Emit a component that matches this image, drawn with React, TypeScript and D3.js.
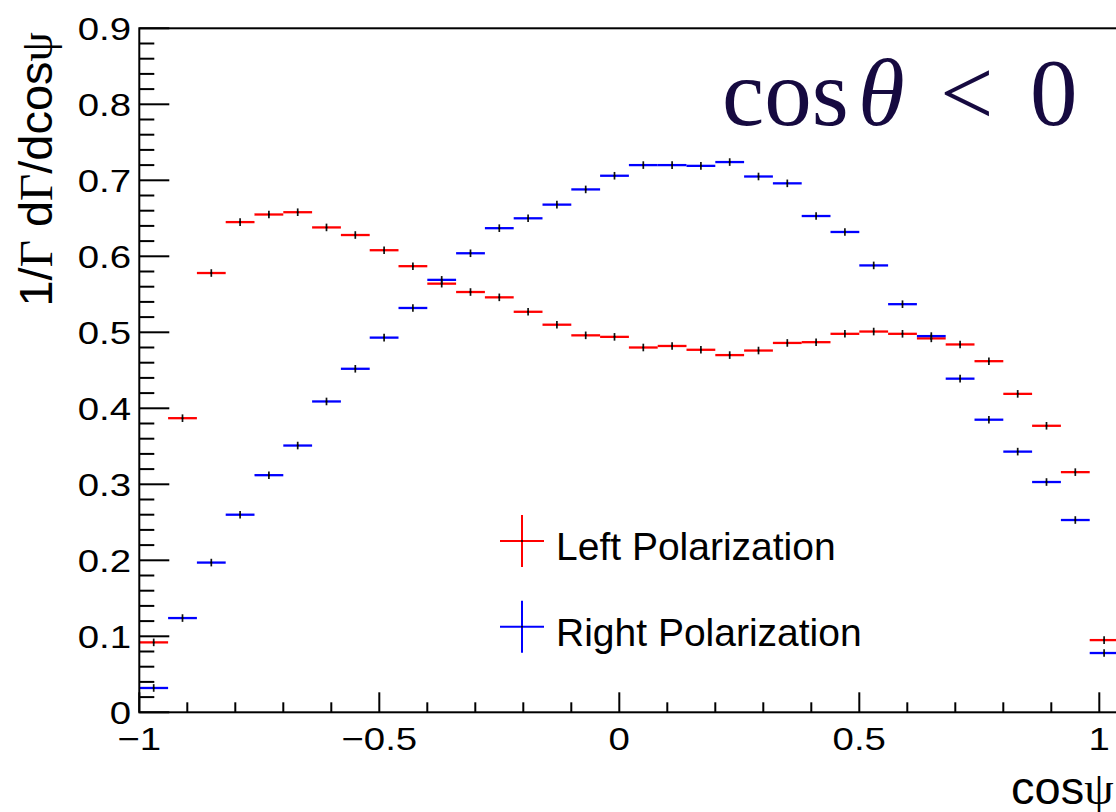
import React, { useRef, useEffect } from "react";
import * as d3 from "d3";

// 34 bins of width 0.06 starting at cosψ = -1
const binLow = -1;
const binWidth = 0.06;

const leftPol = [
  0.092, 0.387, 0.578, 0.645, 0.655, 0.658, 0.638, 0.628, 0.608, 0.587,
  0.564, 0.553, 0.546, 0.527, 0.51, 0.496, 0.494, 0.48, 0.482, 0.477,
  0.47, 0.476, 0.486, 0.487, 0.498, 0.501, 0.498, 0.492, 0.484, 0.462,
  0.419, 0.377, 0.316, 0.095
];

const rightPol = [
  0.032, 0.124, 0.197, 0.26, 0.312, 0.351, 0.409, 0.452, 0.493, 0.532,
  0.569, 0.604, 0.637, 0.65, 0.668, 0.688, 0.706, 0.72, 0.72, 0.719,
  0.724, 0.705, 0.696, 0.653, 0.632, 0.588, 0.537, 0.495, 0.439, 0.385,
  0.343, 0.303, 0.253, 0.078
];

const statErr = 0.005;

const xMajor = [-1, -0.5, 0, 0.5, 1];
const xLabels = ["\u22121", "\u22120.5", "0", "0.5", "1"];
const yMajor = [0, 0.1, 0.2, 0.3, 0.4, 0.5, 0.6, 0.7, 0.8, 0.9];
const yLabels = ["0", "0.1", "0.2", "0.3", "0.4", "0.5", "0.6", "0.7", "0.8", "0.9"];

const series = [
  { name: "Left Polarization", values: leftPol, color: "#ff0000" },
  { name: "Right Polarization", values: rightPol, color: "#0000ff" }
];

export default function App() {
  const svgRef = useRef<SVGSVGElement>(null);

  useEffect(() => {
    const width = 1116;
    const height = 812;
    const svg = d3.select(svgRef.current);
    svg.selectAll("*").remove();
    svg.attr("width", width).attr("height", height);

    const x = d3.scaleLinear().domain([-1, 1.04]).range([139.3, 1118.5]);
    const y = d3.scaleLinear().domain([0, 0.9]).range([712.3, 28.3]);
    const sans = "'Liberation Sans', Arial, Helvetica, sans-serif";
    const serif = "'Liberation Serif', 'Times New Roman', serif";

    svg.append("rect").attr("width", width).attr("height", height).attr("fill", "white");

    // data
    series.forEach(s => {
      const g = svg.append("g");
      s.values.forEach((v, i) => {
        const lo = binLow + i * binWidth;
        const cx = x(lo + binWidth / 2);
        g.append("line")
          .attr("x1", x(lo)).attr("x2", x(lo + binWidth))
          .attr("y1", y(v)).attr("y2", y(v))
          .attr("stroke", s.color).attr("stroke-width", 2.3);
        g.append("line")
          .attr("x1", cx).attr("x2", cx)
          .attr("y1", y(v - statErr)).attr("y2", y(v + statErr))
          .attr("stroke", "#111").attr("stroke-width", 1.7);
        g.append("circle").attr("cx", cx).attr("cy", y(v)).attr("r", 1).attr("fill", "black");
      });
    });

    // frame
    const axis = svg.append("g").attr("stroke", "black").attr("stroke-width", 2).attr("fill", "none");
    axis.append("rect")
      .attr("x", x(-1)).attr("y", y(0.9))
      .attr("width", x(1.04) - x(-1)).attr("height", y(0) - y(0.9));

    // x ticks
    d3.range(-1, 1.0001, 0.1).forEach(t => {
      const major = xMajor.some(m => Math.abs(m - t) < 1e-6);
      axis.append("line")
        .attr("x1", x(t)).attr("x2", x(t))
        .attr("y1", y(0)).attr("y2", y(0) - (major ? 20 : 10));
    });
    // y ticks
    d3.range(0, 0.9001, 0.02).forEach(t => {
      const major = yMajor.some(m => Math.abs(m - t) < 1e-6);
      axis.append("line")
        .attr("x1", x(-1)).attr("x2", x(-1) + (major ? 30 : 15))
        .attr("y1", y(t)).attr("y2", y(t));
    });

    // tick labels
    xMajor.forEach((t, i) => {
      svg.append("text")
        .attr("transform", `translate(${x(t)},750) scale(1.2,1)`)
        .attr("text-anchor", "middle")
        .style("font-family", sans).style("font-size", "32px").attr("fill", "black")
        .text(xLabels[i]);
    });
    yMajor.forEach((t, i) => {
      svg.append("text")
        .attr("transform", `translate(131,${y(t)}) scale(1.2,1)`)
        .attr("text-anchor", "end").attr("dy", "0.36em")
        .style("font-family", sans).style("font-size", "32px").attr("fill", "black")
        .text(yLabels[i]);
    });

    // axis titles
    const xt = svg.append("text")
      .attr("x", 1011).attr("y", 804)
      .style("font-family", sans).style("font-size", "47px").attr("fill", "black");
    xt.append("tspan").text("cos");
    xt.append("tspan").style("font-family", serif).text("\u03c8");

    const yt = svg.append("text")
      .attr("transform", "translate(52,32) rotate(-90)")
      .attr("text-anchor", "end")
      .style("font-family", sans).style("font-size", "47px").attr("fill", "black");
    yt.append("tspan").text("1/");
    yt.append("tspan").style("font-family", serif).text("\u0393");
    yt.append("tspan").text(" d");
    yt.append("tspan").style("font-family", serif).text("\u0393");
    yt.append("tspan").text("/dcos");
    yt.append("tspan").style("font-family", serif).text("\u03c8");

    // legend
    series.forEach((s, i) => {
      const ly = 541 + i * 85.7;
      const lg = svg.append("g");
      lg.append("line").attr("x1", 500).attr("x2", 544).attr("y1", ly).attr("y2", ly)
        .attr("stroke", s.color).attr("stroke-width", 2);
      lg.append("line").attr("x1", 522).attr("x2", 522).attr("y1", ly - 26).attr("y2", ly + 26)
        .attr("stroke", s.color).attr("stroke-width", 2);
      lg.append("circle").attr("cx", 522).attr("cy", ly).attr("r", 1).attr("fill", "black");
      lg.append("text").attr("x", 556).attr("y", ly + 19)
        .style("font-family", sans).style("font-size", "39px").attr("fill", "black")
        .text(s.name);
    });

    // annotation
    const ann = svg.append("text").attr("y", 125)
      .style("font-family", serif).style("font-size", "95px").attr("fill", "#160a40");
    ann.append("tspan").attr("x", 722).text("cos");
    ann.append("tspan").attr("x", 858).style("font-style", "italic").text("\u03b8");
    ann.append("tspan").attr("x", 940).text("<");
    ann.append("tspan").attr("x", 1030).text("0");
  }, []);

  return (
    <div style={{ position: "absolute", left: 0, top: 0 }}>
      <svg ref={svgRef} style={{ display: "block" }} />
    </div>
  );
}
